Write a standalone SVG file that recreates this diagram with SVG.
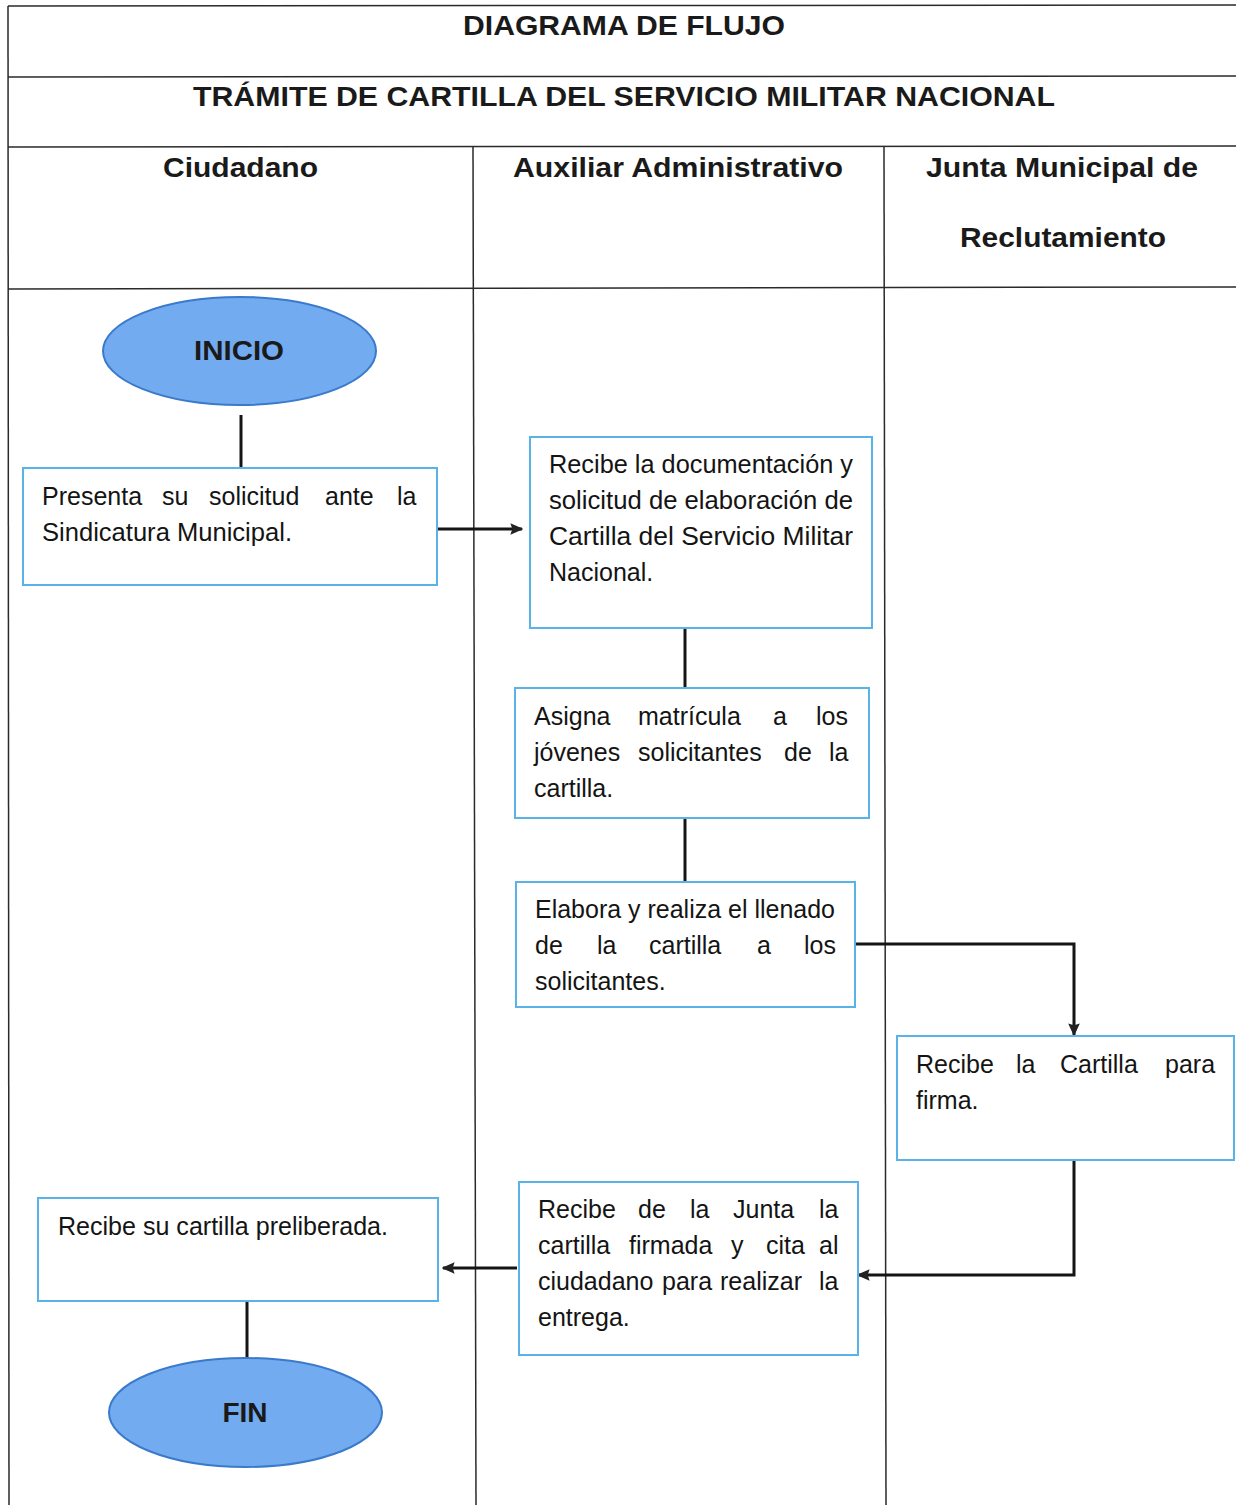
<svg xmlns="http://www.w3.org/2000/svg" width="1236" height="1505" viewBox="0 0 1236 1505">
<style>
.grid{stroke:#2a2a2a;stroke-width:1.5;fill:none}
.hdr{font-family:"Liberation Sans",Arial,sans-serif;font-weight:bold;font-size:28px;fill:#1a1a1a}
.term{fill:#72abf0;stroke:#3a7acb;stroke-width:2}
.termtxt{font-family:"Liberation Sans",Arial,sans-serif;font-weight:bold;font-size:28px;fill:#1a1a1a;text-anchor:middle}
.box{fill:#ffffff;stroke:#5ab3e6;stroke-width:2}
.txt{font-family:"Liberation Sans",Arial,sans-serif;font-size:25px;fill:#141414}
.conn{stroke:#151515;stroke-width:3;fill:none}
</style>
<defs>
<marker id="arr" viewBox="0 0 10 10" refX="9" refY="5" markerWidth="4.3" markerHeight="4.3" orient="auto" markerUnits="strokeWidth">
<path d="M0,0.5 L10,5 L0,9.5 L1.5,5 Z" fill="#222"/>
</marker>
</defs>
<rect width="1236" height="1505" fill="#ffffff"/>
<g id="table">
<line class="grid" x1="8" y1="6" x2="1236" y2="5"/>
<line class="grid" x1="8" y1="77" x2="1236" y2="76"/>
<line class="grid" x1="8" y1="147" x2="1236" y2="146"/>
<line class="grid" x1="8" y1="289" x2="1236" y2="287"/>
<line class="grid" x1="8" y1="6" x2="9" y2="1505"/>
<line class="grid" x1="473" y1="147" x2="476" y2="1505"/>
<line class="grid" x1="884" y1="147" x2="886" y2="1505"/>
<text class="hdr" x="463" y="35" textLength="322" lengthAdjust="spacingAndGlyphs">DIAGRAMA DE FLUJO</text>
<text class="hdr" x="193" y="106" textLength="862" lengthAdjust="spacingAndGlyphs">TRÁMITE DE CARTILLA DEL SERVICIO MILITAR NACIONAL</text>
<text class="hdr" x="163" y="177" textLength="155" lengthAdjust="spacingAndGlyphs">Ciudadano</text>
<text class="hdr" x="513" y="177" textLength="330" lengthAdjust="spacingAndGlyphs">Auxiliar Administrativo</text>
<text class="hdr" x="926" y="177" textLength="272" lengthAdjust="spacingAndGlyphs">Junta Municipal de</text>
<text class="hdr" x="960" y="247" textLength="206" lengthAdjust="spacingAndGlyphs">Reclutamiento</text>
</g>
<g id="connectors">
<line class="conn" x1="241" y1="415" x2="241" y2="467"/>
<line class="conn" x1="437" y1="529" x2="522" y2="529" marker-end="url(#arr)"/>
<line class="conn" x1="685" y1="629" x2="685" y2="688"/>
<line class="conn" x1="685" y1="818" x2="685" y2="882"/>
<polyline class="conn" points="855,944 1074,944 1074,1035" marker-end="url(#arr)"/>
<polyline class="conn" points="1074,1160 1074,1275 858,1275" marker-end="url(#arr)"/>
<line class="conn" x1="517" y1="1268" x2="443" y2="1268" marker-end="url(#arr)"/>
<line class="conn" x1="247" y1="1301" x2="247" y2="1358"/>
</g>
<g id="inicio">
<ellipse class="term" cx="239.5" cy="351" rx="136.5" ry="54"/>
<text class="termtxt" x="239" y="360" textLength="90" lengthAdjust="spacingAndGlyphs">INICIO</text>
</g>
<g id="presenta">
<rect class="box" x="23" y="468" width="414" height="117"/>
<text class="txt" y="505"><tspan x="42">Presenta</tspan><tspan x="162">su</tspan><tspan x="209">solicitud</tspan><tspan x="325">ante</tspan><tspan x="397">la</tspan></text>
<text class="txt" x="42" y="541" textLength="250" lengthAdjust="spacingAndGlyphs">Sindicatura Municipal.</text>
</g>
<g id="recibe-doc">
<rect class="box" x="530" y="437" width="342" height="191"/>
<text class="txt" x="549" y="473" textLength="304" lengthAdjust="spacingAndGlyphs">Recibe la documentación y</text>
<text class="txt" x="549" y="509" textLength="304" lengthAdjust="spacingAndGlyphs">solicitud de elaboración de</text>
<text class="txt" x="549" y="545" textLength="304" lengthAdjust="spacingAndGlyphs">Cartilla del Servicio Militar</text>
<text class="txt" x="549" y="581">Nacional.</text>
</g>
<g id="asigna">
<rect class="box" x="515" y="688" width="354" height="130"/>
<text class="txt" y="725"><tspan x="534">Asigna</tspan><tspan x="638">matrícula</tspan><tspan x="773">a</tspan><tspan x="816">los</tspan></text>
<text class="txt" y="761"><tspan x="534">jóvenes</tspan><tspan x="638">solicitantes</tspan><tspan x="784">de</tspan><tspan x="829">la</tspan></text>
<text class="txt" x="534" y="797">cartilla.</text>
</g>
<g id="elabora">
<rect class="box" x="516" y="882" width="339" height="125"/>
<text class="txt" x="535" y="918" textLength="300" lengthAdjust="spacingAndGlyphs">Elabora y realiza el llenado</text>
<text class="txt" y="954"><tspan x="535">de</tspan><tspan x="597">la</tspan><tspan x="649">cartilla</tspan><tspan x="757">a</tspan><tspan x="804">los</tspan></text>
<text class="txt" x="535" y="990">solicitantes.</text>
</g>
<g id="recibe-firma">
<rect class="box" x="897" y="1036" width="337" height="124"/>
<text class="txt" y="1073"><tspan x="916">Recibe</tspan><tspan x="1016">la</tspan><tspan x="1060">Cartilla</tspan><tspan x="1165">para</tspan></text>
<text class="txt" x="916" y="1109">firma.</text>
</g>
<g id="recibe-junta">
<rect class="box" x="519" y="1182" width="339" height="173"/>
<text class="txt" y="1218"><tspan x="538">Recibe</tspan><tspan x="638">de</tspan><tspan x="690">la</tspan><tspan x="733">Junta</tspan><tspan x="819">la</tspan></text>
<text class="txt" y="1254"><tspan x="538">cartilla</tspan><tspan x="629">firmada</tspan><tspan x="731">y</tspan><tspan x="766">cita</tspan><tspan x="819">al</tspan></text>
<text class="txt" y="1290"><tspan x="538">ciudadano</tspan><tspan x="662">para</tspan><tspan x="720">realizar</tspan><tspan x="819">la</tspan></text>
<text class="txt" x="538" y="1326">entrega.</text>
</g>
<g id="recibe-cartilla">
<rect class="box" x="38" y="1198" width="400" height="103"/>
<text class="txt" x="58" y="1235" textLength="330" lengthAdjust="spacingAndGlyphs">Recibe su cartilla preliberada.</text>
</g>
<g id="fin">
<ellipse class="term" cx="245.5" cy="1412.5" rx="136.5" ry="54.5"/>
<text class="termtxt" x="245" y="1422">FIN</text>
</g>
</svg>
